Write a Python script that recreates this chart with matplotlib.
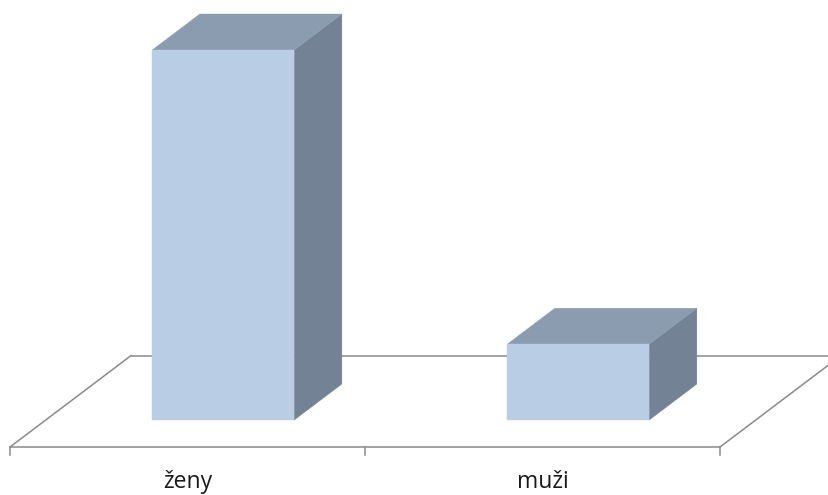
import matplotlib
matplotlib.use("Agg")
import matplotlib.pyplot as plt
from matplotlib.patches import Polygon

categories = ["ženy", "muži"]
values = [83, 17]

# colours of the bar faces and floor
front_color = "#B9CDE5"
top_color = "#8B9BB0"
side_color = "#748295"
floor_color = "#8A8A8A"

# oblique projection of the floor depth (data units at full depth)
depth_dx = 0.3408
depth_dy = 20.5
bar_depth = (0.295, 0.689)
bar_width = 0.40


def proj(x, y, d):
    return (x + d * depth_dx, y + d * depth_dy)


fig = plt.figure(figsize=(8.29, 4.95), dpi=100)
ax = fig.add_axes([0, 0, 1, 1])
ax.set_xlim(-0.5 - 10 / 355, -0.5 + 819 / 355)
ax.set_ylim(-48 / 4.458, 447 / 4.458)
ax.axis("off")

n = len(categories)
x0, x1 = -0.5, n - 0.5
lw = 1.1

# floor outline
bl = proj(x0, 0, 1)
br = proj(x1, 0, 1)
ax.plot([bl[0], br[0]], [bl[1], br[1]], color=floor_color, lw=lw, zorder=1,
        solid_capstyle="butt")
ax.plot([x0, bl[0]], [0, bl[1]], color=floor_color, lw=lw, zorder=1)
ax.plot([x1, br[0]], [0, br[1]], color=floor_color, lw=lw, zorder=1)
ax.plot([x0, x1], [0, 0], color=floor_color, lw=lw, zorder=1)
for i in range(n + 1):
    xt = x0 + i
    ax.plot([xt, xt], [0, -1.8], color=floor_color, lw=lw, zorder=1)

# bars
for i, v in enumerate(values):
    l, r = i - bar_width / 2, i + bar_width / 2
    df, db = bar_depth
    f_bl = proj(l, 0, df); f_br = proj(r, 0, df)
    f_tl = proj(l, v, df); f_tr = proj(r, v, df)
    b_br = proj(r, 0, db)
    b_tl = proj(l, v, db); b_tr = proj(r, v, db)
    side = Polygon([f_br, b_br, b_tr, f_tr], closed=True, facecolor=side_color,
                   edgecolor=side_color, lw=0.3, zorder=3)
    top = Polygon([f_tl, f_tr, b_tr, b_tl], closed=True, facecolor=top_color,
                  edgecolor=top_color, lw=0.3, zorder=3)
    front = Polygon([f_bl, f_br, f_tr, f_tl], closed=True, facecolor=front_color,
                    edgecolor=front_color, lw=0.3, zorder=4)
    for p in (side, top, front):
        ax.add_patch(p)

# category labels
for i, c in enumerate(categories):
    ax.annotate(c, xy=(i, 0), xytext=(0, -29.7), textcoords="offset points",
                ha="center", va="baseline", fontsize=16.5, family="Open Sans",
                color="#1a1a1a")

fig.savefig("out.png", dpi=100)
